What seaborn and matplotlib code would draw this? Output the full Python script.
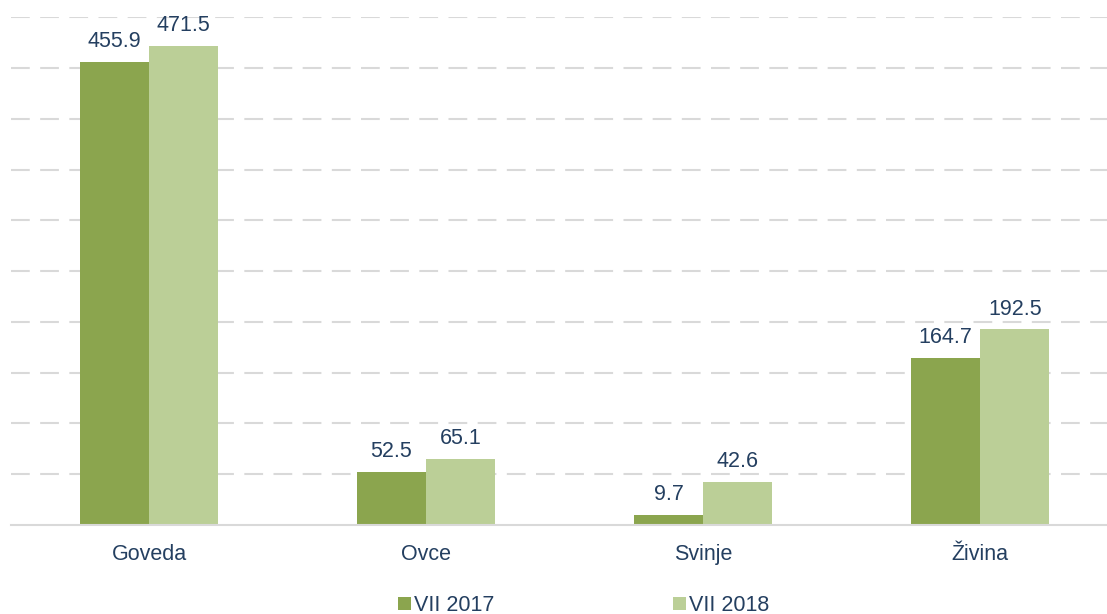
import pandas as pd
import matplotlib.pyplot as plt
import seaborn as sns

categories = ["Goveda", "Ovce", "Svinje", "Živina"]
series_names = ["VII 2017", "VII 2018"]
values_2017 = [455.9, 52.5, 9.7, 164.7]
values_2018 = [471.5, 65.1, 42.6, 192.5]

PALETTE = ["#8BA54E", "#BBCF97"]
TEXT_COLOR = "#243F60"
GRID_COLOR = "#D9D9D9"

df = pd.DataFrame({
    "category": categories * 2,
    "series": [series_names[0]] * 4 + [series_names[1]] * 4,
    "value": values_2017 + values_2018,
})

sns.set_theme(style="white")
plt.rcParams["font.family"] = ["Liberation Sans", "DejaVu Sans"]

fig = plt.figure(figsize=(11.07, 6.14), dpi=100)
ax = fig.add_axes([0.0095, 0.145, 1.001, 0.827])

sns.barplot(data=df, x="category", y="value", hue="series", palette=PALETTE,
            width=0.5, gap=0, saturation=1, linewidth=0, ax=ax, legend=True)

ax.set_ylim(0, 500)
ax.set_xlim(-0.5, 3.5)
ax.set_yticks(range(50, 501, 50))
ax.yaxis.grid(True, linestyle=(0, (9, 5)), color=GRID_COLOR, linewidth=1.5)
ax.set_axisbelow(True)
ax.tick_params(axis="y", left=False, labelleft=False)
ax.tick_params(axis="x", bottom=False, labelsize=15.5, labelcolor=TEXT_COLOR, pad=8)
ax.set_xlabel("")
ax.set_ylabel("")
for side in ["top", "right", "left"]:
    ax.spines[side].set_visible(False)
ax.spines["bottom"].set_color(GRID_COLOR)
ax.spines["bottom"].set_linewidth(1.5)

for container in ax.containers:
    ax.bar_label(container, fmt="%.1f", padding=7, fontsize=15.5, color=TEXT_COLOR)

handles, labels = ax.get_legend_handles_labels()
ax.get_legend().remove()
fig.legend(handles, labels, loc="lower center", bbox_to_anchor=(0.527, -0.035), ncol=2,
           frameon=False, fontsize=15.5, labelcolor=TEXT_COLOR, handlelength=0.6,
           handleheight=0.6, handletextpad=0.15, columnspacing=8.3)

fig.savefig("out.png", dpi=100)
